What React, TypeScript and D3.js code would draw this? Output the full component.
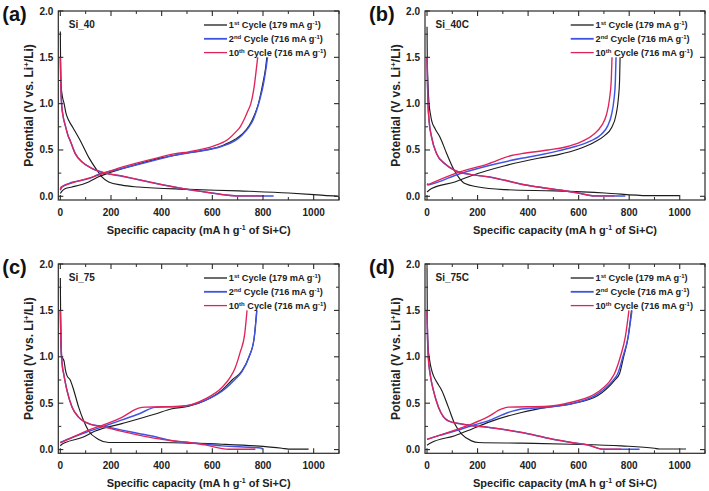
import React from "react";
import * as d3 from "d3";

type Pt = [number, number];

// ---------- tick labels / text ----------
const xTicks = [0, 200, 400, 600, 800, 1000];
const xMinor = [100, 300, 500, 700, 900, 1100];
const yTicks = [0, 0.5, 1.0, 1.5, 2.0];
const yMinor = [0.25, 0.75, 1.25, 1.75];
const panelLetters = ["(a)", "(b)", "(c)", "(d)"];
const sampleNames = ["Si_40", "Si_40C", "Si_75", "Si_75C"];
const legendOrd = ["1", "2", "10"];
const legendSup = ["st", "nd", "th"];
const legendRate = ["179", "716", "716"];

// ---------- (a) Si_40 ----------
const a_c1_dis: Pt[] = [[0,1.78],[1,1.45],[3,1.2],[8,1.08],[15,1.0],[22,0.9],[33,0.82],[50,0.74],[79,0.6],[112,0.42],[145,0.28],[164,0.21],[191,0.155],[243,0.12],[309,0.1],[507,0.075],[704,0.058],[901,0.036],[1000,0.018],[1040,0.01],[1095,0.003]];
const a_c1_chg: Pt[] = [[0,0.03],[5,0.05],[20,0.083],[46,0.1],[112,0.155],[151,0.21],[200,0.26],[309,0.35],[400,0.415],[507,0.47],[638,0.545],[690,0.615],[717,0.67],[745,0.76],[765,0.87],[782,1.0],[798,1.2],[810,1.38],[815,1.5]];
const a_c2_dis: Pt[] = [[0,1.5],[2,1.2],[5,1.0],[10,0.88],[20,0.76],[30,0.66],[39,0.6],[59,0.46],[86,0.37],[125,0.3],[178,0.25],[243,0.216],[309,0.178],[375,0.14],[480,0.085],[572,0.047],[664,0.011],[697,0.004],[842,0.004]];
const a_c2_chg: Pt[] = [[0,0.065],[3,0.085],[7,0.1],[33,0.137],[112,0.19],[151,0.235],[243,0.3],[375,0.39],[454,0.445],[533,0.48],[638,0.54],[690,0.6],[717,0.66],[745,0.75],[760,0.82],[774,0.92],[786,1.03],[801,1.2],[812,1.38],[818,1.5]];
const a_c10_dis: Pt[] = [[0,1.5],[2,1.2],[5,1.0],[10,0.88],[20,0.76],[30,0.66],[39,0.6],[59,0.46],[86,0.37],[125,0.3],[178,0.25],[243,0.22],[309,0.18],[375,0.14],[480,0.085],[572,0.045],[664,0.011],[697,0.004],[803,0.004]];
const a_c10_chg: Pt[] = [[0,0.08],[3,0.1],[20,0.12],[112,0.195],[243,0.315],[375,0.41],[454,0.46],[507,0.48],[612,0.55],[660,0.61],[691,0.69],[710,0.75],[724,0.82],[740,0.92],[752,1.0],[766,1.2],[774,1.38],[779,1.5]];

// ---------- (b) Si_40C ----------
const b_c1_dis: Pt[] = [[0,1.83],[1,1.5],[4,1.2],[8,1.0],[14,0.88],[18,0.82],[32,0.73],[51,0.64],[78,0.46],[104,0.3],[124,0.21],[150,0.137],[203,0.1],[308,0.072],[505,0.058],[703,0.036],[874,0.007],[1000,0.007]];
const b_c1_chg: Pt[] = [[0,0.047],[18,0.083],[110,0.155],[178,0.225],[308,0.33],[440,0.41],[520,0.45],[600,0.51],[660,0.58],[700,0.65],[730,0.74],[748,0.88],[757,1.05],[762,1.25],[764,1.5]];
const b_c2_dis: Pt[] = [[0,1.5],[2,1.2],[4,1.0],[8,0.82],[18,0.64],[38,0.46],[71,0.35],[110,0.28],[176,0.234],[242,0.21],[308,0.173],[374,0.13],[439,0.1],[532,0.065],[597,0.036],[663,0.004],[785,0.004]];
const b_c2_chg: Pt[] = [[0,0.137],[8,0.125],[45,0.155],[110,0.225],[242,0.33],[374,0.41],[445,0.445],[520,0.49],[590,0.54],[650,0.6],[690,0.67],[715,0.76],[730,0.88],[740,1.05],[745,1.22],[748,1.5]];
const b_c10_dis: Pt[] = [[0,1.5],[2,1.2],[4,1.0],[8,0.82],[18,0.64],[38,0.46],[71,0.35],[110,0.28],[176,0.234],[242,0.21],[308,0.173],[374,0.13],[439,0.1],[532,0.065],[597,0.036],[663,0.004],[742,0.004]];
const b_c10_chg: Pt[] = [[0,0.12],[110,0.245],[242,0.35],[334,0.44],[374,0.46],[479,0.5],[560,0.54],[620,0.6],[660,0.67],[690,0.76],[710,0.88],[722,1.05],[729,1.25],[732,1.5]];

// ---------- (c) Si_75 ----------
const c_c1_dis: Pt[] = [[0,1.85],[1,1.5],[3,1.1],[5,1.0],[10,0.98],[15,0.95],[20,0.86],[26,0.8],[39,0.75],[53,0.64],[72,0.46],[92,0.31],[112,0.2],[151,0.11],[191,0.076],[375,0.076],[507,0.069],[638,0.058],[770,0.04],[875,0.014],[901,0.005],[980,0.005]];
const c_c1_chg: Pt[] = [[0,0.04],[5,0.055],[20,0.076],[86,0.13],[138,0.2],[243,0.28],[375,0.384],[441,0.44],[507,0.467],[572,0.53],[638,0.64],[678,0.75],[717,0.85],[745,1.0],[765,1.2],[775,1.5]];
const c_c2_dis: Pt[] = [[0,1.5],[2,1.2],[4,1.05],[8,0.9],[13,0.82],[26,0.64],[46,0.46],[72,0.35],[112,0.28],[178,0.246],[243,0.21],[309,0.174],[375,0.138],[441,0.094],[507,0.076],[638,0.04],[796,0.014],[797,0.0]];
const c_c2_chg: Pt[] = [[0,0.076],[46,0.13],[112,0.196],[178,0.257],[243,0.32],[309,0.384],[375,0.455],[480,0.467],[572,0.53],[651,0.656],[691,0.76],[717,0.84],[745,1.0],[765,1.2],[776,1.5]];
const c_c10_dis: Pt[] = [[0,1.5],[2,1.2],[4,1.05],[8,0.9],[13,0.82],[26,0.64],[46,0.46],[72,0.35],[112,0.28],[178,0.24],[243,0.196],[309,0.156],[375,0.12],[507,0.076],[572,0.05],[664,0.004],[770,0.004]];
const c_c10_chg: Pt[] = [[0,0.076],[46,0.13],[112,0.21],[178,0.275],[243,0.348],[309,0.446],[336,0.457],[480,0.467],[572,0.547],[638,0.67],[671,0.78],[690,0.88],[710,1.05],[728,1.25],[737,1.5]];

// ---------- (d) Si_75C ----------
const d_c1_dis: Pt[] = [[0,1.95],[1,1.5],[4,1.12],[10,0.97],[17,0.87],[25,0.8],[38,0.73],[58,0.64],[84,0.46],[110,0.275],[137,0.167],[176,0.094],[203,0.076],[374,0.069],[571,0.058],[768,0.04],[900,0.014],[920,0.006],[1025,0.006]];
const d_c1_chg: Pt[] = [[0,0.047],[18,0.076],[110,0.15],[176,0.22],[242,0.293],[374,0.4],[479,0.457],[571,0.493],[676,0.583],[742,0.746],[762,0.82],[778,1.0],[795,1.2],[809,1.5]];
const d_c2_dis: Pt[] = [[0,1.5],[2,1.2],[5,1.0],[12,0.82],[25,0.64],[45,0.46],[84,0.31],[137,0.275],[242,0.24],[374,0.185],[479,0.123],[571,0.076],[637,0.05],[696,0.004],[841,0.004]];
const d_c2_chg: Pt[] = [[0,0.11],[45,0.15],[110,0.2],[176,0.257],[242,0.31],[321,0.4],[374,0.438],[479,0.457],[571,0.493],[676,0.6],[736,0.746],[755,0.82],[775,1.0],[795,1.2],[811,1.5]];
const d_c10_dis: Pt[] = [[0,1.5],[2,1.2],[5,1.0],[12,0.82],[25,0.64],[45,0.46],[84,0.31],[137,0.275],[242,0.24],[374,0.185],[479,0.123],[571,0.076],[637,0.05],[696,0.004],[768,0.004]];
const d_c10_chg: Pt[] = [[0,0.11],[110,0.21],[176,0.275],[242,0.355],[295,0.438],[321,0.457],[479,0.467],[571,0.51],[676,0.62],[729,0.76],[742,0.82],[765,1.0],[785,1.22],[799,1.5]];

const panelData: Pt[][][] = [
  [a_c1_dis, a_c1_chg, a_c2_dis, a_c2_chg, a_c10_dis, a_c10_chg],
  [b_c1_dis, b_c1_chg, b_c2_dis, b_c2_chg, b_c10_dis, b_c10_chg],
  [c_c1_dis, c_c1_chg, c_c2_dis, c_c2_chg, c_c10_dis, c_c10_chg],
  [d_c1_dis, d_c1_chg, d_c2_dis, d_c2_chg, d_c10_dis, d_c10_chg],
];

// ---------- styling / layout ----------
const COLORS = ["#1c1c1c", "#3f54e2", "#e0245a"];
const FONT = "'Liberation Sans', Arial, Helvetica, sans-serif";
const AXIS = "#2a2a2a";
const layouts = [
  { left: 58.3, top: 11, right: 339, bottom: 200 },
  { left: 425, top: 11, right: 705, bottom: 200 },
  { left: 58.3, top: 264, right: 339, bottom: 453.3 },
  { left: 425, top: 264, right: 705, bottom: 453.3 },
];
const X_DOMAIN: [number, number] = [-8, 1100];
const Y_DOMAIN: [number, number] = [-0.04, 2.0];

function Panel({ idx }: { idx: number }) {
  const L = layouts[idx];
  const x = d3.scaleLinear().domain(X_DOMAIN).range([L.left, L.right]);
  const y = d3.scaleLinear().domain(Y_DOMAIN).range([L.bottom, L.top]);
  const line = d3
    .line<Pt>()
    .x((d) => x(d[0]))
    .y((d) => y(d[1]))
    .curve(d3.curveMonotoneX);
  const clipId = `clip-${idx}`;
  const curves = panelData[idx];
  const widths = [1.15, 1.45, 1.35];
  const maj = 5;
  const mnr = 3;
  const fmt = d3.format(".1f");

  return (
    <g>
      <defs>
        <clipPath id={clipId}>
          <rect x={L.left} y={L.top} width={L.right - L.left} height={L.bottom - L.top} />
        </clipPath>
      </defs>
      <g clipPath={`url(#${clipId})`}>
        {curves.map((c, i) => {
          const cyc = Math.floor(i / 2);
          return (
            <path
              key={i}
              d={line(c) || ""}
              fill="none"
              stroke={COLORS[cyc]}
              strokeWidth={widths[cyc]}
              strokeLinejoin="round"
            />
          );
        })}
      </g>
      <rect
        x={L.left}
        y={L.top}
        width={L.right - L.left}
        height={L.bottom - L.top}
        fill="none"
        stroke={AXIS}
        strokeWidth={1.2}
      />
      {xTicks.map((t) => (
        <g key={"xt" + t}>
          <line x1={x(t)} x2={x(t)} y1={L.bottom} y2={L.bottom - maj} stroke={AXIS} strokeWidth={1.1} />
          <line x1={x(t)} x2={x(t)} y1={L.top} y2={L.top + maj} stroke={AXIS} strokeWidth={1.1} />
          <text
            x={x(t)}
            y={L.bottom + 16}
            textAnchor="middle"
            fontFamily={FONT}
            fontWeight="bold"
            fontSize={10}
            fill="#222"
          >
            {t}
          </text>
        </g>
      ))}
      {xMinor.map((t) => (
        <g key={"xm" + t}>
          <line x1={x(t)} x2={x(t)} y1={L.bottom} y2={L.bottom - mnr} stroke={AXIS} strokeWidth={1} />
          <line x1={x(t)} x2={x(t)} y1={L.top} y2={L.top + mnr} stroke={AXIS} strokeWidth={1} />
        </g>
      ))}
      {yTicks.map((t) => (
        <g key={"yt" + t}>
          <line x1={L.left} x2={L.left + maj} y1={y(t)} y2={y(t)} stroke={AXIS} strokeWidth={1.1} />
          <line x1={L.right} x2={L.right - maj} y1={y(t)} y2={y(t)} stroke={AXIS} strokeWidth={1.1} />
          <text
            x={L.left - 5}
            y={y(t) + 3.5}
            textAnchor="end"
            fontFamily={FONT}
            fontWeight="bold"
            fontSize={10}
            fill="#222"
          >
            {fmt(t)}
          </text>
        </g>
      ))}
      {yMinor.map((t) => (
        <g key={"ym" + t}>
          <line x1={L.left} x2={L.left + mnr} y1={y(t)} y2={y(t)} stroke={AXIS} strokeWidth={1} />
          <line x1={L.right} x2={L.right - mnr} y1={y(t)} y2={y(t)} stroke={AXIS} strokeWidth={1} />
        </g>
      ))}
      <text
        x={(L.left + L.right) / 2}
        y={L.bottom + 34}
        textAnchor="middle"
        fontFamily={FONT}
        fontWeight="bold"
        fontSize={11}
        fill="#222"
      >
        Specific capacity (mA h g
        <tspan dy={-4} fontSize={7}>-1</tspan>
        <tspan dy={4}> of Si+C)</tspan>
      </text>
      <text
        transform={`translate(${L.left - 25},${(L.top + L.bottom) / 2}) rotate(-90)`}
        textAnchor="middle"
        fontFamily={FONT}
        fontWeight="bold"
        fontSize={12}
        fill="#222"
      >
        Potential (V vs. Li
        <tspan dy={-4.5} fontSize={8}>+</tspan>
        <tspan dy={4.5}>/Li)</tspan>
      </text>
      <text
        x={L.left - 56}
        y={L.top + 10}
        fontFamily={FONT}
        fontWeight="bold"
        fontSize={20}
        fill="#111"
      >
        {panelLetters[idx]}
      </text>
      <text
        x={L.left + 10.5}
        y={L.top + 16.5}
        fontFamily={FONT}
        fontWeight="bold"
        fontSize={10}
        fill="#222"
      >
        {sampleNames[idx]}
      </text>
      {legendOrd.map((o, i) => {
        const ly = L.top + 14 + i * 13.8;
        return (
          <g key={"lg" + i}>
            <line
              x1={L.left + 145.7}
              x2={L.left + 168.7}
              y1={ly}
              y2={ly}
              stroke={COLORS[i]}
              strokeWidth={i === 1 ? 1.8 : 1.3}
            />
            <text
              x={L.left + 170.5}
              y={ly + 3.4}
              fontFamily={FONT}
              fontWeight="bold"
              fontSize={9.2}
              fill="#222"
            >
              {o}
              <tspan dy={-3.5} fontSize={6}>{legendSup[i]}</tspan>
              <tspan dy={3.5}>{` Cycle (${legendRate[i]} mA g`}</tspan>
              <tspan dy={-3.5} fontSize={6}>-1</tspan>
              <tspan dy={3.5}>)</tspan>
            </text>
          </g>
        );
      })}
    </g>
  );
}

export default function App() {
  return (
    <svg
      width={709}
      height={491}
      viewBox="0 0 709 491"
      style={{ display: "block", position: "absolute", left: 0, top: 0, background: "#fff" }}
    >
      <rect x={0} y={0} width={709} height={491} fill="#fff" />
      {[0, 1, 2, 3].map((i) => (
        <Panel key={i} idx={i} />
      ))}
    </svg>
  );
}
